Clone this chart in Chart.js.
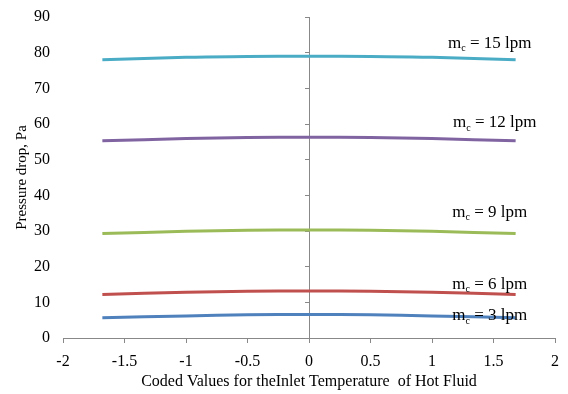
<!DOCTYPE html>
<html>
<head>
<meta charset="utf-8">
<script src="https://cdn.jsdelivr.net/npm/chart.js@4/dist/chart.umd.min.js"></script>
<style>
  body { margin: 0; background: #fff; }
  canvas { display: block; }
</style>
</head>
<body>
<canvas id="chart" width="568" height="394"></canvas>
<script>
// coded values of the inlet temperature
const codedX = [-1.68, -1, -0.5, 0, 0.5, 1, 1.68];

// pressure drop (Pa) for each coolant flow rate
const flow3 = [5.7, 6.2, 6.5, 6.6, 6.5, 6.2, 5.7];
const flow6 = [12.2, 12.8, 13.1, 13.2, 13.1, 12.8, 12.2];
const flow9 = [29.3, 29.9, 30.2, 30.3, 30.2, 29.9, 29.3];
const flow12 = [55.3, 55.9, 56.2, 56.3, 56.2, 55.9, 55.3];
const flow15 = [78.0, 78.7, 78.9, 79.0, 78.9, 78.7, 78.0];

const flowLabels = ['3 lpm', '6 lpm', '9 lpm', '12 lpm', '15 lpm'];
// label anchor in data units [x, y]
const labelPos = [[1.47, 6.2], [1.47, 15.1], [1.47, 35.3], [1.51, 60.3], [1.47, 82.7]];

const colors = ['#4f81bd', '#c0504d', '#9bbb59', '#8064a2', '#4bacc6'];
const allSeries = [flow3, flow6, flow9, flow12, flow15];

const serif = "'Liberation Serif', 'Times New Roman', serif";

const datasets = allSeries.map(function (s, i) {
    return {
        label: flowLabels[i],
        data: s.map(function (v, j) { return { x: codedX[j], y: v }; }),
        borderColor: colors[i],
        borderWidth: 3,
        pointRadius: 0,
        tension: 0.4,
        fill: false
    };
});

const flowLabelPlugin = {
    id: 'flowLabels',
    afterDatasetsDraw(chart) {
        const ctx = chart.ctx;
        const xs = chart.scales.x, ys = chart.scales.y;
        ctx.save();
        ctx.fillStyle = '#000';
        ctx.textBaseline = 'middle';
        flowLabels.forEach(function (txt, i) {
            const px = xs.getPixelForValue(labelPos[i][0]);
            const py = ys.getPixelForValue(labelPos[i][1]);
            ctx.font = '17px ' + serif;
            const wM = ctx.measureText('m').width;
            const rest = ' = ' + txt;
            const wR = ctx.measureText(rest).width;
            ctx.font = '10px ' + serif;
            const wC = ctx.measureText('c').width;
            let x = px - (wM + wC + wR) / 2;
            ctx.textAlign = 'left';
            ctx.font = '17px ' + serif;
            ctx.fillText('m', x, py);
            x += wM;
            ctx.font = '10px ' + serif;
            ctx.fillText('c', x, py + 5);
            x += wC;
            ctx.font = '17px ' + serif;
            ctx.fillText(rest, x, py);
        });
        ctx.restore();
    }
};

new Chart(document.getElementById('chart'), {
    type: 'line',
    data: { datasets: datasets },
    options: {
        responsive: false,
        animation: false,
        layout: { padding: { top: 3, right: 9, left: 13, bottom: 0 } },
        plugins: { legend: { display: false }, tooltip: { enabled: false } },
        scales: {
            x: {
                type: 'linear',
                min: -2, max: 2,
                ticks: {
                    stepSize: 0.5, color: '#000', font: { family: serif, size: 16 }, padding: 9,
                    callback: function (v) { return String(v); }
                },
                grid: { drawOnChartArea: false, tickLength: 5, color: '#888' },
                border: { color: '#888' },
                title: {
                    display: true,
                    text: 'Coded Values for theInlet Temperature  of Hot Fluid',
                    color: '#000',
                    font: { family: serif, size: 16 },
                    padding: { top: 2, bottom: 3 }
                },
                afterFit: function (scale) { scale.height = 56; }
            },
            y: {
                min: 0, max: 90,
                ticks: { stepSize: 10, color: '#000', font: { family: serif, size: 16 }, padding: 13 },
                grid: { display: false, drawTicks: false },
                border: { display: false },
                title: {
                    display: true,
                    text: 'Pressure drop, Pa',
                    color: '#000',
                    font: { family: serif, size: 15 },
                    padding: { top: 0, bottom: 3 }
                },
                afterFit: function (scale) {
                    scale.width = 50;
                    scale.paddingTop = 17;
                    scale.paddingBottom = 0;
                }
            },
            y2: {
                position: { x: 0 },
                min: 0, max: 90,
                ticks: { stepSize: 10, display: false },
                grid: { drawOnChartArea: false, tickLength: 4, color: '#888' },
                border: { color: '#888' },
                afterFit: function (scale) { scale.width = 0; }
            }
        }
    },
    plugins: [flowLabelPlugin]
});
</script>
</body>
</html>
